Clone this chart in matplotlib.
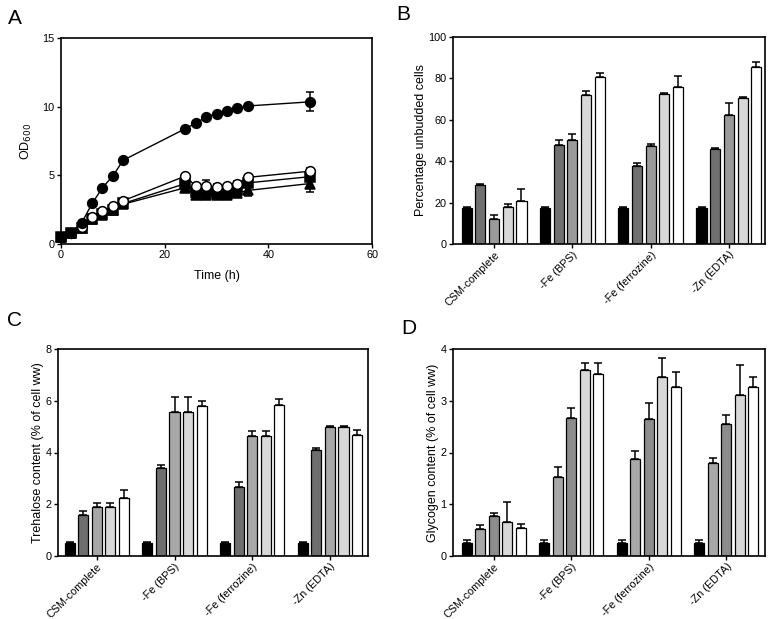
import numpy as np
import matplotlib
matplotlib.use('Agg')
import matplotlib.pyplot as plt

plt.rcParams['font.family'] = ['Liberation Sans', 'DejaVu Sans']

# Panel A: growth curves
time_h = [0, 2, 4, 6, 8, 10, 12, 24, 26, 28, 30, 32, 34, 36, 48]
od_filled_circle = [0.5, 0.8, 1.55, 2.95, 4.1, 4.95, 6.1, 8.4, 8.8, 9.25, 9.5, 9.7, 9.9, 10.05, 10.35]
od_filled_circle_err = [0, 0, 0, 0, 0, 0, 0, 0.1, 0.1, 0.1, 0.1, 0.1, 0.1, 0.1, 0.7]
od_open_circle = [0.5, 0.8, 1.25, 2.0, 2.4, 2.75, 3.15, 4.95, 4.2, 4.2, 4.15, 4.2, 4.4, 4.85, 5.3]
od_open_circle_err = [0, 0, 0, 0, 0, 0, 0, 0.1, 0.2, 0.45, 0.2, 0.2, 0.2, 0.2, 0.2]
od_square = [0.5, 0.8, 1.2, 1.85, 2.15, 2.5, 2.95, 4.4, 3.8, 3.8, 3.75, 3.8, 3.95, 4.45, 4.9]
od_square_err = [0, 0, 0, 0, 0, 0, 0, 0.15, 0.25, 0.3, 0.2, 0.3, 0.2, 0.3, 0.3]
od_triangle = [0.5, 0.8, 1.2, 1.8, 2.1, 2.45, 2.9, 4.1, 3.6, 3.55, 3.6, 3.6, 3.7, 3.9, 4.4]
od_triangle_err = [0, 0, 0, 0, 0, 0, 0, 0.1, 0.2, 0.2, 0.2, 0.3, 0.2, 0.4, 0.6]

# Bar panels
conditions = ['CSM-complete', '-Fe (BPS)', '-Fe (ferrozine)', '-Zn (EDTA)']

unbudded = [[17.5, 28.3, 12.0, 17.8, 21.0],
            [17.5, 48.0, 50.2, 72.0, 80.5],
            [17.5, 37.8, 47.2, 72.7, 75.7],
            [17.5, 46.0, 62.5, 70.7, 85.5]]
unbudded_err = [[0.5, 0.5, 1.8, 1.5, 5.5],
                [0.5, 2.2, 3.0, 2.0, 2.2],
                [0.5, 1.5, 1.2, 0.3, 5.3],
                [0.5, 0.4, 5.5, 0.5, 2.5]]

trehalose = [[0.52, 1.60, 1.90, 1.90, 2.25],
             [0.52, 3.40, 5.55, 5.55, 5.78],
             [0.52, 2.68, 4.62, 4.62, 5.85],
             [0.52, 4.10, 4.98, 4.98, 4.67]]
trehalose_err = [[0.03, 0.15, 0.15, 0.15, 0.30],
                 [0.03, 0.12, 0.60, 0.60, 0.20],
                 [0.03, 0.17, 0.20, 0.20, 0.20],
                 [0.03, 0.08, 0.05, 0.05, 0.20]]

glycogen = [[0.26, 0.53, 0.77, 0.65, 0.54],
            [0.26, 1.53, 2.66, 3.59, 3.52],
            [0.26, 1.88, 2.65, 3.46, 3.26],
            [0.26, 1.79, 2.56, 3.12, 3.26]]
glycogen_err = [[0.05, 0.07, 0.07, 0.40, 0.07],
                [0.05, 0.19, 0.20, 0.13, 0.20],
                [0.05, 0.14, 0.31, 0.37, 0.29],
                [0.05, 0.10, 0.16, 0.57, 0.20]]

colors_b = ['#000000', '#707070', '#9a9a9a', '#d8d8d8', '#ffffff']
colors_c = ['#000000', '#6e6e6e', '#a8a8a8', '#d8d8d8', '#ffffff']
colors_d = ['#000000', '#a8a8a8', '#8c8c8c', '#d8d8d8', '#ffffff']

W, H = 770, 619
fig = plt.figure(figsize=(W / 100, H / 100), dpi=100)


def px_axes(left, right, top, bottom):
    return fig.add_axes([left / W, 1 - bottom / H, (right - left) / W, (bottom - top) / H])


def style(ax):
    for s in ax.spines.values():
        s.set_linewidth(1.2)
    ax.tick_params(direction='out', length=3, width=1, labelsize=7.8, pad=1.5)


def bar_panel(ax, values, errs, colors, ylim, yticks, ylabel, xlim):
    values = np.array(values)
    errs = np.array(errs)
    pitch = 0.175
    width = 0.13
    base = np.arange(len(conditions))
    for i in range(values.shape[1]):
        x = base + (i - 2) * pitch
        ax.bar(x, values[:, i], width=width, color=colors[i], edgecolor='black',
               linewidth=0.9, zorder=2)
        ax.errorbar(x, values[:, i], yerr=[np.zeros(len(x)), errs[:, i]], fmt='none',
                    ecolor='black', elinewidth=1.1, capsize=2.8, capthick=1.1, zorder=1)
    ax.set_xlim(*xlim)
    ax.set_ylim(*ylim)
    ax.set_yticks(yticks)
    ax.set_xticks(base)
    ax.set_xticklabels(conditions, rotation=45, ha='right', rotation_mode='anchor')
    ax.set_ylabel(ylabel, fontsize=9, labelpad=1)
    style(ax)
    ax.tick_params(axis='x', pad=1)


# A
axA = px_axes(61, 372, 38, 244)
mk = dict(markersize=7, markeredgecolor='black', markeredgewidth=1.1, linewidth=1,
          color='black', elinewidth=1.1, capsize=3, capthick=1.1, clip_on=False)
axA.errorbar(time_h, od_triangle, yerr=od_triangle_err, fmt='-^', markerfacecolor='black', **mk)
axA.errorbar(time_h, od_square, yerr=od_square_err, fmt='-s', markerfacecolor='black', **mk)
axA.errorbar(time_h, od_open_circle, yerr=od_open_circle_err, fmt='-o', markerfacecolor='white', **mk)
axA.errorbar(time_h, od_filled_circle, yerr=od_filled_circle_err, fmt='-o', markerfacecolor='black', **mk)
axA.set_xlim(0, 60)
axA.set_ylim(0, 15)
axA.set_xticks([0, 20, 40, 60])
axA.set_yticks([0, 5, 10, 15])
axA.set_xlabel('Time (h)', fontsize=9, labelpad=7)
axA.set_ylabel('OD$_{600}$', fontsize=9, labelpad=6)
style(axA)

# B
axB = px_axes(453, 765, 37, 244)
bar_panel(axB, unbudded, unbudded_err, colors_b, (0, 100), [0, 20, 40, 60, 80, 100],
          'Percentage unbudded cells', (-0.524, 3.46))

# C
axC = px_axes(58, 368, 349, 556)
bar_panel(axC, trehalose, trehalose_err, colors_c, (0, 8), [0, 2, 4, 6, 8],
          'Trehalose content (% of cell ww)', (-0.5, 3.49))

# D
axD = px_axes(453, 765, 349, 556)
bar_panel(axD, glycogen, glycogen_err, colors_d, (0, 4), [0, 1, 2, 3, 4],
          'Glycogen content (% of cell ww)', (-0.525, 3.5))

for letter, x, y in [('A', 15, 18), ('B', 403, 15), ('C', 14, 320), ('D', 409, 328)]:
    fig.text(x / W, 1 - y / H, letter, fontsize=15, ha='center', va='center')

fig.savefig('out.png', dpi=100)
